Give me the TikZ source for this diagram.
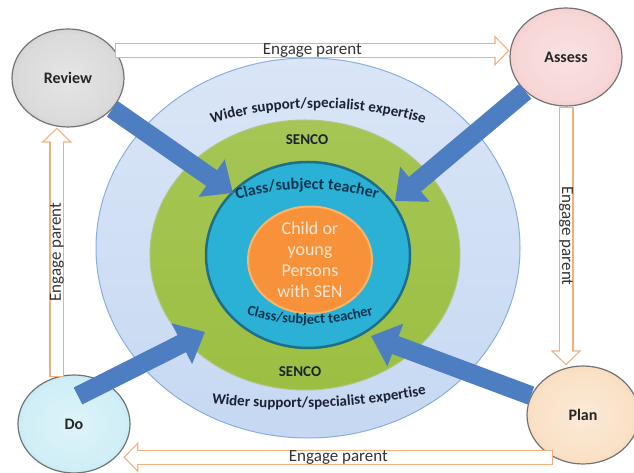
\documentclass[tikz,border=0pt]{standalone}
\usepackage{fontspec}
\setmainfont{Carlito}
\usetikzlibrary{shapes.geometric,arrows.meta,decorations.text}

\definecolor{widerblue}{HTML}{C6D8F2}
\definecolor{wideredge}{HTML}{8AAEDC}
\definecolor{sencogreen}{HTML}{9CBF42}
\definecolor{sencoedge}{HTML}{7E9E35}
\definecolor{teacherteal}{HTML}{2CB1D6}
\definecolor{teacheredge}{HTML}{1D6F88}
\definecolor{childorange}{HTML}{F7923A}
\definecolor{childedge}{HTML}{FBB46A}
\definecolor{childtext}{HTML}{FCE6D0}
\definecolor{pushblue}{HTML}{4C7EC1}
\definecolor{engageorange}{HTML}{F3AE7E}
\definecolor{ringtext}{HTML}{1C2233}
\definecolor{tealtext}{HTML}{0E3550}
\definecolor{reviewgray}{HTML}{A8A8A8}
\definecolor{assesspink}{HTML}{EC9E9E}
\definecolor{docyan}{HTML}{8FD8EA}
\definecolor{planpeach}{HTML}{F2B878}
\colorlet{stagecol}{reviewgray}

\pgfdeclareradialshading[stagecol]{stageball}{\pgfpoint{0bp}{0bp}}{%
  color(0bp)=(stagecol!30!white); color(22bp)=(stagecol!42!white);
  color(38bp)=(stagecol!75!white); color(46bp)=(stagecol); color(50bp)=(stagecol!70!black)}

\newcommand{\ringfont}{\bfseries\fontsize{15}{18}\selectfont}
\newcommand{\engage}[3]{
  \draw[engageline] #1 -- #2;
  \draw[engagefill] #1 -- #2 node[engagelabel] {#3};
}

\tikzset{
  ring/.style={ellipse, inner sep=0pt},
  stage/.style={ellipse, inner sep=0pt, minimum width=112pt, minimum height=98pt,
    draw=black!55, line width=1.2pt, font=\bfseries\fontsize{16}{18}\selectfont, text=black!85},
  curvetext/.style={decorate, decoration={text along path, text align=center}},
  pusharrow/.style={draw=pushblue, line width=19pt, -{Triangle[width=44pt,length=26pt]}},
  engageline/.style={draw=engageorange, line width=15pt, -{Triangle[width=30pt,length=15pt]}},
  engagefill/.style={draw=white, line width=12.6pt, shorten >=1.7pt, shorten <=1.2pt,
    -{Triangle[width=24.2pt,length=12.1pt]}},
  engagelabel/.style={midway, sloped, font=\fontsize{17}{20}\selectfont, text=black!80}
}

\begin{document}
\begin{tikzpicture}[x=1pt,y=1pt]
\useasboundingbox (0,0) rectangle (634,473);

% rings
\node[ring, minimum width=424pt, minimum height=380pt, draw=wideredge, line width=1pt,
  top color=widerblue!65, bottom color=widerblue] (wider) at (308,225) {};
\node[ring, minimum width=310pt, minimum height=270pt, draw=sencoedge!60, line width=1pt,
  top color=sencogreen!90!white, bottom color=sencogreen] (senco) at (305,218) {};
\node[ring, minimum width=204pt, minimum height=186pt, draw=teacheredge, line width=2.5pt,
  fill=teacherteal] (teacher) at (308,218) {};
\node[ring, minimum width=124pt, minimum height=104pt, draw=childedge, line width=2pt,
  fill=childorange, align=center, text=childtext, font=\fontsize{18}{21}\selectfont]
  (child) at (310,213) {Child or\\young\\Persons\\with SEN};

% ring labels
\path[curvetext, decoration={text color=ringtext,
  text={|\ringfont|Wider support/specialist expertise}}]
  (318,-5) ++(110:370) arc[start angle=110, end angle=70, radius=370];
\node[font=\ringfont, text=ringtext] (sencotop) at (307,333) {SENCO};
\path[curvetext, decoration={text color=tealtext,
  text={|\bfseries\fontsize{16}{19}\selectfont|Class/subject teacher}}]
  (307,44) ++(114:240) arc[start angle=114, end angle=66, radius=240];
\path[curvetext, decoration={text color=tealtext,
  text={|\bfseries\fontsize{14.5}{17}\selectfont|Class/subject teacher}}]
  (310,369) ++(250:220) arc[start angle=250, end angle=290, radius=220];
\node[font=\ringfont, text=ringtext] (sencobot) at (300,101) {SENCO};
\path[curvetext, decoration={text color=ringtext,
  text={|\ringfont|Wider support/specialist expertise}}]
  (290,765) ++(260.4:700) arc[start angle=260.4, end angle=284.4, radius=700];

% stages
\foreach \name/\lab/\x/\y/\col in {review/Review/68/395/reviewgray,
  assess/Assess/566/416/assesspink, do/Do/74/49/docyan, plan/Plan/583/58/planpeach}
  {
  \colorlet{stagecol}{\col}
  \node[stage, shading=stageball] (\name) at (\x,\y) {\lab};
  }

% arrows into the rings
\coordinate (reviewtip) at (233,280);
\coordinate (assesstip) at (395,272);
\coordinate (dotip) at (205,141);
\coordinate (plantip) at (371,137);
\draw[pusharrow] (review) -- (reviewtip);
\draw[pusharrow] (assess) -- (assesstip);
\draw[pusharrow] ([shift={(4,28)}]do.center) -- (dotip);
\draw[pusharrow] (plan) -- (plantip);

% engage parent loop
\engage{(review.30)}{(review.30 -| assess.west)}{Engage parent}
\engage{(assess.south)}{(assess.south |- plan.north)}{Engage parent}
\engage{(plan.235)}{++(-430,0)}{Engage parent}
\engage{(do.110)}{(do.110 |- review.south)}{Engage parent}
\end{tikzpicture}
\end{document}
